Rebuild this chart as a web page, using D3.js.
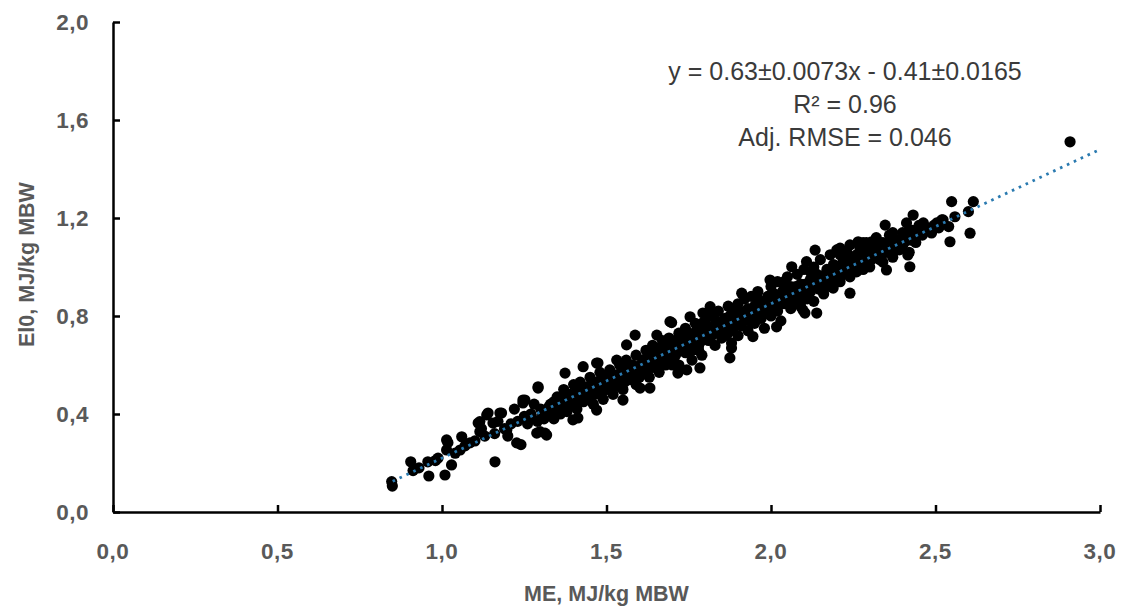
<!DOCTYPE html>
<html>
<head>
<meta charset="utf-8">
<script src="https://cdn.jsdelivr.net/npm/d3@7"></script>
<style>
  html, body { margin: 0; padding: 0; background: #fff; }
  .tick-label { font-family: 'Liberation Sans', Arial, sans-serif; font-weight: bold; font-size: 22.5px; letter-spacing: 0.5px; fill: #595959; }
  .axisLabel { font-family: 'Liberation Sans', Arial, sans-serif; font-weight: bold; font-size: 21.5px; fill: #595959; }
  .eq { font-family: 'Liberation Sans', Arial, sans-serif; font-size: 25px; fill: #3a3a3a; }
</style>
</head>
<body>
<svg id="chart" width="1124" height="608"></svg>
<script>
// ME (x) vs EI0 (y)
const observations = [
  [0.847,0.124],[0.849,0.106],[0.905,0.205],[0.912,0.169],[0.957,0.205],[0.960,0.147],
  [0.988,0.220],[1.009,0.151],[1.018,0.283],[1.014,0.253],[1.029,0.192],[1.055,0.253],
  [1.060,0.307],[1.085,0.282],[1.110,0.363],[1.115,0.328],[1.136,0.396],[1.161,0.205],
  [1.176,0.404],[1.227,0.282],[1.240,0.275],[1.197,0.335],[1.155,0.363],[1.246,0.445],
  [1.272,0.389],[1.288,0.322],[1.014,0.294],[1.115,0.369],[1.140,0.404],[1.181,0.404],
  [1.246,0.457],[1.292,0.511],[1.318,0.314],[1.298,0.328],[1.374,0.567],[1.429,0.593],
  [1.470,0.608],[1.470,0.416],[1.398,0.376],[1.413,0.384],[1.313,0.322],
  [0.93,0.18],[0.98,0.21],[1.04,0.24],[1.07,0.27],[1.10,0.29],[1.13,0.31],[1.16,0.32],
  [1.19,0.34],[1.21,0.36],[1.23,0.37],[1.25,0.39],[1.27,0.40],[1.20,0.31],[1.26,0.36],
  [1.17,0.37],[1.12,0.34],[1.22,0.42],[1.28,0.44],[1.30,0.42],[1.31,0.38],[1.33,0.41],
  [1.34,0.45],[1.29,0.37],
  [1.32,0.40],[1.33,0.44],[1.34,0.38],[1.35,0.47],[1.36,0.43],[1.36,0.40],[1.37,0.50],
  [1.38,0.45],[1.38,0.41],[1.39,0.48],[1.40,0.44],[1.40,0.52],[1.41,0.46],[1.41,0.42],
  [1.42,0.49],[1.42,0.53],[1.43,0.45],[1.44,0.51],[1.44,0.47],[1.45,0.55],[1.46,0.50],
  [1.46,0.44],[1.47,0.53],[1.48,0.49],[1.48,0.57],[1.49,0.52],[1.49,0.46],[1.50,0.55],
  [1.50,0.50],
  [1.51,0.58],[1.51,0.53],[1.52,0.48],[1.53,0.56],[1.53,0.52],[1.54,0.60],[1.55,0.55],
  [1.55,0.50],[1.56,0.58],[1.56,0.62],[1.57,0.54],[1.58,0.60],[1.58,0.57],[1.59,0.52],
  [1.59,0.64],[1.60,0.59],[1.60,0.55],
  [1.61,0.62],[1.61,0.57],[1.62,0.66],[1.62,0.60],[1.63,0.55],[1.63,0.63],[1.64,0.68],
  [1.64,0.59],[1.65,0.64],[1.65,0.61],[1.66,0.57],[1.66,0.67],[1.67,0.63],[1.67,0.70],
  [1.68,0.60],[1.68,0.66],[1.69,0.64],[1.69,0.71],[1.70,0.62],[1.70,0.67],
  [1.71,0.69],[1.71,0.64],[1.72,0.73],[1.72,0.60],[1.73,0.67],[1.73,0.70],[1.74,0.65],
  [1.74,0.75],[1.75,0.69],[1.75,0.72],[1.76,0.66],[1.76,0.62],[1.77,0.71],[1.77,0.77],
  [1.78,0.68],[1.78,0.74],[1.79,0.70],[1.79,0.64],[1.80,0.73],[1.80,0.78],
  [1.81,0.70],[1.81,0.75],[1.82,0.80],[1.82,0.72],[1.83,0.68],[1.83,0.76],[1.84,0.74],
  [1.84,0.82],[1.85,0.77],[1.85,0.71],[1.86,0.79],[1.86,0.75],[1.87,0.84],[1.87,0.73],
  [1.88,0.77],[1.88,0.69],[1.89,0.80],[1.89,0.76],[1.90,0.85],[1.90,0.78],[1.90,0.72],
  [1.91,0.81],[1.91,0.76],[1.92,0.87],[1.92,0.79],[1.93,0.83],[1.93,0.74],[1.94,0.80],
  [1.94,0.88],[1.95,0.84],[1.95,0.77],[1.96,0.82],[1.96,0.90],[1.97,0.85],[1.97,0.79],
  [1.98,0.83],[1.98,0.75],[1.99,0.88],[1.99,0.81],[2.00,0.86],[2.00,0.92],[2.00,0.80],
  [2.01,0.84],[2.01,0.89],[2.02,0.94],[2.02,0.82],[2.03,0.87],[2.03,0.78],[2.04,0.91],
  [2.04,0.85],[2.05,0.96],[2.05,0.88],[2.06,0.83],[2.06,0.92],[2.07,0.89],[2.07,0.86],
  [2.08,0.97],[2.08,0.90],[2.09,0.84],[2.09,0.93],[2.10,0.88],[2.10,0.99],
  [2.11,0.92],[2.11,0.87],[2.12,0.95],[2.12,0.90],[2.13,1.00],[2.13,0.86],[2.14,0.93],
  [2.14,0.97],[2.15,0.91],[2.15,1.03],[2.16,0.95],[2.16,0.89],[2.17,0.99],[2.17,0.94],
  [2.18,1.05],[2.18,0.92],[2.19,0.97],[2.19,1.01],[2.20,0.95],[2.20,1.07],
  [2.21,0.99],[2.21,0.94],[2.22,1.03],[2.22,0.97],[2.23,1.06],[2.23,1.00],[2.24,0.96],
  [2.24,1.09],[2.25,1.02],[2.25,0.98],[2.26,1.05],[2.27,1.01],[2.27,1.08],[2.28,0.99],
  [2.28,1.04],[2.29,1.10],[2.29,1.02],[2.30,1.06],[2.30,1.00],
  [2.31,1.08],[2.32,1.04],[2.32,1.12],[2.33,1.07],[2.34,1.02],[2.34,1.10],[2.35,1.06],
  [2.36,1.13],[2.36,1.08],[2.37,1.04],[2.38,1.11],[2.39,1.07],[2.40,1.14],[2.40,1.09],
  [2.41,1.12],[2.42,1.06],[2.43,1.15],[2.44,1.10],[2.45,1.17],[2.46,1.13],
  [1.698,0.773],[1.587,0.722],[1.653,0.722],[1.561,0.682],[1.531,0.620],[1.474,0.608],
  [1.292,0.506],[1.252,0.457],[1.550,0.457],[1.602,0.506],[1.632,0.506],[1.717,0.567],
  [1.693,0.777],[1.754,0.797],[1.793,0.812],[1.815,0.838],[1.911,0.893],[1.997,0.947],
  [2.063,1.001],[2.108,1.022],[2.139,0.812],[2.097,0.824],[2.017,0.756],[1.945,0.716],
  [1.880,0.669],[1.875,0.629],[1.784,0.588],[1.744,0.580],
  [2.549,1.267],[2.559,1.205],[2.544,1.103],[2.523,1.192],[2.504,1.180],[2.463,1.180],
  [2.432,1.212],[2.412,1.180],[2.347,1.171],[2.416,1.049],[2.422,1.001],[2.306,1.103],
  [2.265,1.103],[2.210,1.077],[2.134,1.069],[2.351,0.988],[2.240,0.893],[2.189,0.914],
  [2.103,0.812],
  [2.909,1.511],[2.615,1.267],[2.600,1.226],[2.519,1.192],[2.540,1.165],[2.605,1.138],
  [2.488,1.139],
  [1.305,0.40],[1.325,0.43],[1.345,0.42],[1.355,0.44],[1.365,0.46],[1.375,0.42],
  [1.385,0.47],[1.395,0.45],[1.405,0.48],[1.415,0.50],[1.425,0.47],[1.435,0.49],
  [1.445,0.49],[1.455,0.52],[1.465,0.48],[1.475,0.51],[1.485,0.54],[1.495,0.50],
  [1.505,0.53],[1.515,0.55],[1.525,0.51],[1.535,0.54],[1.545,0.57],[1.555,0.53],
  [1.565,0.56],[1.575,0.58],[1.585,0.55],[1.595,0.57],[1.605,0.60],[1.615,0.59],
  [1.625,0.62],[1.635,0.60],[1.645,0.62],[1.655,0.65],[1.665,0.61],[1.675,0.65],
  [1.685,0.68],[1.695,0.66],[1.705,0.65],[1.715,0.67],[1.725,0.69],[1.735,0.72],
  [1.745,0.68],[1.755,0.70],[1.765,0.73],[1.775,0.69],[1.785,0.72],[1.795,0.75],
  [1.805,0.71],[1.815,0.73],[1.825,0.76],[1.835,0.78],[1.845,0.73],[1.855,0.75],
  [1.865,0.77],[1.875,0.80],[1.885,0.75],[1.895,0.78],[1.905,0.82],[1.915,0.78],
  [1.925,0.81],[1.935,0.78],[1.945,0.82],[1.955,0.80],[1.965,0.84],[1.975,0.82],
  [1.985,0.86],[1.995,0.84],[2.005,0.83],[2.015,0.87],[2.025,0.85],[2.035,0.90],
  [2.045,0.87],[2.055,0.91],[2.065,0.88],[2.075,0.92],[2.085,0.87],[2.095,0.91],
  [2.105,0.93],[2.115,0.90],[2.125,0.93],[2.135,0.95],[2.145,0.91],[2.155,0.94],
  [2.165,0.97],[2.175,0.96],[2.185,0.99],[2.195,0.95],[2.205,0.98],[2.215,1.01],
  [2.225,0.99],[2.235,1.03],[2.245,1.00],[2.255,1.04],[2.265,1.02],[2.275,1.05],
  [2.285,1.07],[2.295,1.04],[2.305,1.03],[2.315,1.06],[2.325,1.09],[2.335,1.05],
  [2.345,1.08],[2.355,1.10],[2.365,1.06],[2.375,1.09],[2.385,1.08],[2.395,1.11],
  [2.405,1.10],[2.415,1.14],[2.425,1.11],[2.435,1.13],[2.455,1.14],[2.475,1.16],
  [2.495,1.17],[2.51,1.16],
  [1.62,0.57],[1.70,0.60],[1.78,0.66],[1.86,0.72],[2.02,0.85],[2.11,0.89],[2.19,0.93],
  [2.26,0.98],[2.33,1.03],[1.63,0.66],[1.72,0.71],[1.79,0.77],[1.88,0.83],[1.96,0.87],
  [2.04,0.94],[2.12,0.98],[2.21,1.05],[2.28,1.10],[2.37,1.14]
];

const xTicks = [0, 0.5, 1.0, 1.5, 2.0, 2.5, 3.0];
const yTicks = [0, 0.4, 0.8, 1.2, 1.6, 2.0];
const trendSlope = 0.63,
  trendIntercept = -0.41,
  trendRange = [0.85, 3.0];
const equationLines = [
  'y = 0.63\u00b10.0073x - 0.41\u00b10.0165',
  'R\u00b2 = 0.96',
  'Adj. RMSE = 0.046'
];

const margin = { top: 22, left: 113 },
  chartWidth = 987,
  chartHeight = 490;

const svg = d3.select('#chart');
const g = svg
  .append('g')
  .attr('transform', 'translate(' + margin.left + ',' + margin.top + ')');

const x = d3.scaleLinear().domain([0, 3]).range([0, chartWidth]);
const y = d3.scaleLinear().domain([0, 2]).range([chartHeight, 0]);

const commaFmt = v => d3.format('.1f')(v).replace('.', ',');

/* axes, inside tick marks */
const xAxis = d3.axisBottom(x).tickValues(xTicks).tickSizeInner(-7).tickSizeOuter(0).tickFormat('');
const yAxis = d3.axisLeft(y).tickValues(yTicks).tickSizeInner(-7).tickSizeOuter(0).tickFormat('');

g.append('g')
  .attr('transform', 'translate(0,' + chartHeight + ')')
  .call(xAxis)
  .call(a => a.selectAll('line, path').attr('stroke', '#000').attr('stroke-width', 2.5));

g.append('g')
  .call(yAxis)
  .call(a => a.selectAll('line, path').attr('stroke', '#000').attr('stroke-width', 2.5));

g.append('g')
  .selectAll('text')
  .data(xTicks)
  .enter()
  .append('text')
  .attr('class', 'tick-label')
  .attr('x', d => x(d))
  .attr('y', chartHeight + 47)
  .attr('text-anchor', 'middle')
  .text(commaFmt);

g.append('g')
  .selectAll('text')
  .data(yTicks)
  .enter()
  .append('text')
  .attr('class', 'tick-label')
  .attr('x', -24)
  .attr('y', d => y(d))
  .attr('dy', '0.35em')
  .attr('text-anchor', 'end')
  .text(commaFmt);

g.append('text')
  .attr('class', 'axisLabel')
  .attr('x', chartWidth / 2)
  .attr('y', chartHeight + 89)
  .attr('text-anchor', 'middle')
  .text('ME, MJ/kg MBW');

g.append('text')
  .attr('class', 'axisLabel')
  .attr('transform', 'rotate(-90)')
  .attr('x', -y(1.01))
  .attr('y', -79)
  .attr('text-anchor', 'middle')
  .text('El0, MJ/kg MBW');

/* points */
g.append('g')
  .selectAll('circle')
  .data(observations)
  .enter()
  .append('circle')
  .attr('cx', d => x(d[0]))
  .attr('cy', d => y(d[1]))
  .attr('r', 5.6)
  .attr('fill', '#000');

/* trend line */
const line = d3
  .line()
  .x(d => x(d))
  .y(d => y(trendSlope * d + trendIntercept));

g.append('path')
  .attr('d', line(trendRange))
  .attr('fill', 'none')
  .attr('stroke', '#2a7ab0')
  .attr('stroke-width', 2.8)
  .attr('stroke-dasharray', '2.6,5');

/* equation */
g.append('g')
  .selectAll('text')
  .data(equationLines)
  .enter()
  .append('text')
  .attr('class', 'eq')
  .attr('x', 732)
  .attr('y', (d, i) => 58 + i * 33)
  .attr('text-anchor', 'middle')
  .text(d => d);
</script>
</body>
</html>
